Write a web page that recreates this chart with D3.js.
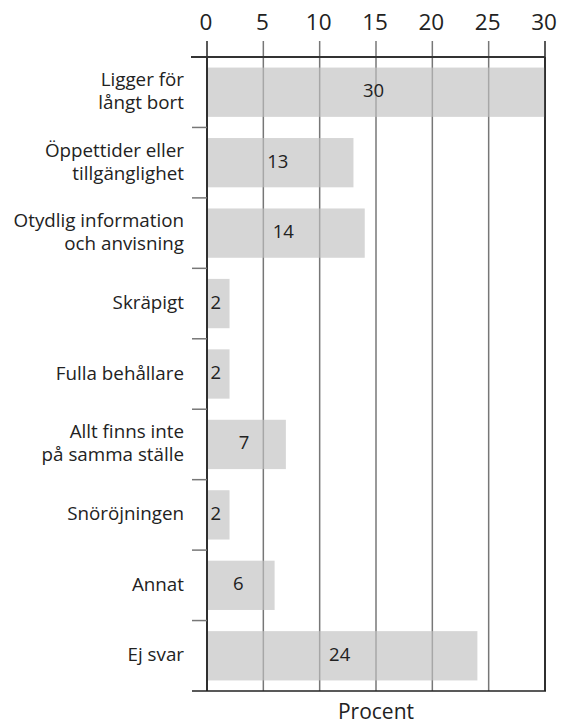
<!DOCTYPE html>
<html lang="sv">
  <head>
    <meta charset="UTF-8">
    <title>Procent</title>
    <style>
      body { margin: 0; background: #fff; }
      text { font-family: "Open Sans", sans-serif; fill: #222; }
    </style>
  </head>
  <body>
    <svg id="chart"></svg>

    <script src="https://cdn.jsdelivr.net/npm/d3@7/dist/d3.min.js"></script>

    <script>
      // Categories (each label split into its display lines) and values
      var categories = [
        ["Ligger för", "långt bort"],
        ["Öppettider eller", "tillgänglighet"],
        ["Otydlig information", "och anvisning"],
        ["Skräpigt"],
        ["Fulla behållare"],
        ["Allt finns inte", "på samma ställe"],
        ["Snöröjningen"],
        ["Annat"],
        ["Ej svar"]
      ];
      var values = [30, 13, 14, 2, 2, 7, 2, 6, 24];
      var xTicks = [0, 5, 10, 15, 20, 25, 30];
      var axisTitle = "Procent";

      var width = 562, height = 724;
      var margin = { top: 57, right: 17, bottom: 33, left: 207 };

      var svg = d3.select("#chart")
        .attr("width", width)
        .attr("height", height);

      var x = d3.scaleLinear()
        .domain([0, 30])
        .range([margin.left, width - margin.right]);

      var y = d3.scaleBand()
        .domain(d3.range(categories.length))
        .range([margin.top, height - margin.bottom])
        .paddingInner(0.3)
        .paddingOuter(0.15);

      var step = y.step();
      var y0 = margin.top, y1 = height - margin.bottom;

      // Vertical gridlines (inner ones gray)
      svg.append("g")
        .selectAll("line")
        .data(xTicks)
        .enter()
        .append("line")
        .attr("x1", function(d) { return x(d); })
        .attr("x2", function(d) { return x(d); })
        .attr("y1", y0 - 16)
        .attr("y2", y1)
        .attr("stroke", function(d, i) { return (i === 0 || i === xTicks.length - 1) ? "#222" : "#777"; })
        .attr("stroke-width", 1.5);

      // Bars
      svg.append("g")
        .selectAll("rect")
        .data(values)
        .enter()
        .append("rect")
        .attr("x", x(0) + 1)
        .attr("y", function(d, i) { return y(i); })
        .attr("width", function(d) { return x(d) - x(0) - 1; })
        .attr("height", y.bandwidth())
        .attr("fill", "#c1c1c1")
        .attr("fill-opacity", 0.66);

      // Left axis line, frame right side
      svg.append("line")
        .attr("x1", x(0)).attr("x2", x(0))
        .attr("y1", y0).attr("y2", y1)
        .attr("stroke", "#222").attr("stroke-width", 1.5);
      svg.append("line")
        .attr("x1", x(30)).attr("x2", x(30))
        .attr("y1", y0).attr("y2", y1)
        .attr("stroke", "#222").attr("stroke-width", 1.5);

      // Category boundary ticks on the left
      svg.append("g")
        .selectAll("line")
        .data(d3.range(1, categories.length))
        .enter()
        .append("line")
        .attr("x1", x(0) - 15)
        .attr("x2", x(0))
        .attr("y1", function(d) { return y0 + d * step; })
        .attr("y2", function(d) { return y0 + d * step; })
        .attr("stroke", "#777")
        .attr("stroke-width", 1.5);

      // Top and bottom lines
      svg.append("line")
        .attr("x1", x(0) - 16).attr("x2", x(30))
        .attr("y1", y0).attr("y2", y0)
        .attr("stroke", "#333").attr("stroke-width", 2);
      svg.append("line")
        .attr("x1", x(0) - 15).attr("x2", x(30) + 1)
        .attr("y1", y1).attr("y2", y1)
        .attr("stroke", "#222").attr("stroke-width", 1.5);

      // Top tick labels
      svg.append("g")
        .selectAll("text")
        .data(xTicks)
        .enter()
        .append("text")
        .attr("x", function(d) { return x(d) - 1; })
        .attr("y", 30)
        .attr("text-anchor", "middle")
        .style("font-size", "22.5px")
        .text(function(d) { return d; });

      // Category labels
      var labels = svg.append("g")
        .selectAll("text")
        .data(categories)
        .enter()
        .append("text")
        .attr("text-anchor", "end")
        .style("font-size", "18.8px")
        .attr("transform", function(d, i) {
          var cy = y(i) + y.bandwidth() / 2;
          return "translate(" + (x(0) - 23) + "," + (cy - (d.length - 1) * 11.5 + 5.5) + ")";
        });

      labels.selectAll("tspan")
        .data(function(d) { return d; })
        .enter()
        .append("tspan")
        .attr("x", 0)
        .attr("dy", function(d, i) { return i === 0 ? 0 : 23; })
        .text(function(d) { return d; });

      // Value labels inside bars
      svg.append("g")
        .selectAll("text")
        .data(values)
        .enter()
        .append("text")
        .attr("x", function(d) { return (x(0) + x(d)) / 2 - 2.5; })
        .attr("y", function(d, i) { return y(i) + y.bandwidth() / 2 + 5; })
        .attr("text-anchor", "middle")
        .style("font-size", "18.5px")
        .text(function(d) { return d; });

      // Axis title
      svg.append("text")
        .attr("x", (x(0) + x(30)) / 2)
        .attr("y", 719)
        .attr("text-anchor", "middle")
        .style("font-size", "21px")
        .text(axisTitle);
    </script>
  </body>
</html>
